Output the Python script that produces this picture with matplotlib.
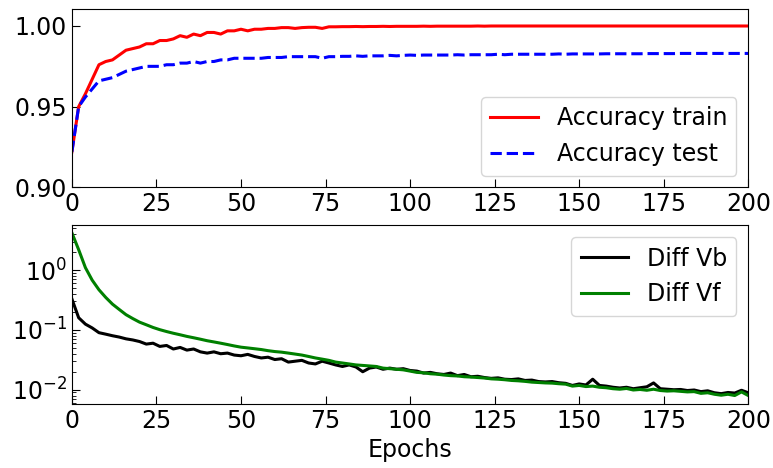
import numpy as np
import matplotlib.pyplot as plt

# Epochs sampled every 2 epochs
epochs = list(range(0, 201, 2))

acc_train = [
    0.922, 0.950, 0.958, 0.967, 0.976, 0.978, 0.979, 0.982, 0.985, 0.986,
    0.987, 0.989, 0.989, 0.991, 0.991, 0.992, 0.994, 0.993, 0.995, 0.994,
    0.996, 0.996, 0.995, 0.997, 0.997, 0.998, 0.997, 0.998, 0.998, 0.9985,
    0.9985, 0.999, 0.999, 0.9985, 0.999, 0.9992, 0.9992, 0.9985, 0.9995, 0.9995,
    0.9996, 0.9996, 0.9997, 0.9996, 0.9997, 0.9997, 0.9998, 0.9997, 0.9998, 0.9998,
    0.9998, 0.9998, 0.9999, 0.9998, 0.9999, 0.9999, 0.9999, 0.9999, 0.9999, 0.9999,
    1.0, 0.9999, 1.0, 1.0, 1.0, 1.0, 1.0, 1.0, 1.0, 1.0,
    1.0, 1.0, 1.0, 1.0, 1.0, 1.0, 1.0, 1.0, 1.0, 1.0,
    1.0, 1.0, 1.0, 1.0, 1.0, 1.0, 1.0, 1.0, 1.0, 1.0,
    1.0, 1.0, 1.0, 1.0, 1.0, 1.0, 1.0, 1.0, 1.0, 1.0,
    1.0,
]

acc_test = [
    0.922, 0.950, 0.956, 0.961, 0.966, 0.967, 0.968, 0.970, 0.972, 0.973,
    0.974, 0.975, 0.975, 0.975, 0.976, 0.976, 0.977, 0.977, 0.978, 0.977,
    0.978, 0.978, 0.979, 0.979, 0.980, 0.980, 0.980, 0.980, 0.980, 0.9805,
    0.9805, 0.9805, 0.981, 0.981, 0.981, 0.981, 0.981, 0.980, 0.981, 0.981,
    0.9812, 0.9812, 0.9815, 0.9812, 0.9815, 0.9815, 0.9815, 0.9818, 0.9815, 0.9818,
    0.982, 0.9818, 0.982, 0.982, 0.982, 0.982, 0.982, 0.9822, 0.982, 0.9822,
    0.9822, 0.9822, 0.9822, 0.9825, 0.9822, 0.9825, 0.9825, 0.9825, 0.9825, 0.9825,
    0.9825, 0.9825, 0.9827, 0.9825, 0.9827, 0.9827, 0.9827, 0.9827, 0.9827, 0.9828,
    0.9828, 0.9828, 0.9828, 0.9828, 0.9828, 0.9829, 0.9829, 0.9829, 0.9829, 0.9829,
    0.983, 0.983, 0.983, 0.983, 0.983, 0.983, 0.983, 0.983, 0.983, 0.983,
    0.983,
]

diff_vb = [
    0.33, 0.16, 0.125, 0.108, 0.090, 0.085, 0.080, 0.076, 0.071, 0.068,
    0.064, 0.058, 0.060, 0.053, 0.055, 0.048, 0.051, 0.046, 0.048, 0.043,
    0.041, 0.043, 0.040, 0.041, 0.038, 0.037, 0.039, 0.036, 0.034, 0.035,
    0.032, 0.033, 0.029, 0.030, 0.031, 0.028, 0.027, 0.030, 0.028, 0.026,
    0.0245, 0.026, 0.024, 0.020, 0.023, 0.024, 0.022, 0.023, 0.022, 0.0225,
    0.021, 0.0205, 0.019, 0.0195, 0.0185, 0.018, 0.019, 0.0172, 0.018, 0.0165,
    0.0168, 0.0160, 0.0155, 0.0158, 0.0150, 0.0148, 0.0152, 0.0143, 0.0145, 0.0137,
    0.0135, 0.0137, 0.0131, 0.0128, 0.0118, 0.0125, 0.0120, 0.0150, 0.0118, 0.0115,
    0.0110, 0.0107, 0.0110, 0.0104, 0.0108, 0.0112, 0.0130, 0.0104, 0.0102, 0.0100,
    0.0101, 0.0097, 0.0099, 0.0093, 0.0096, 0.0089, 0.0086, 0.0090, 0.0088, 0.0098,
    0.0089,
]

diff_vf = [
    4.2, 2.2, 1.1, 0.68, 0.47, 0.35, 0.27, 0.22, 0.18, 0.155,
    0.135, 0.122, 0.110, 0.101, 0.094, 0.088, 0.083, 0.078, 0.074, 0.070,
    0.066, 0.063, 0.060, 0.057, 0.054, 0.0515, 0.050, 0.0485, 0.047, 0.045,
    0.0435, 0.0425, 0.041, 0.0395, 0.038, 0.036, 0.034, 0.0325, 0.031, 0.029,
    0.028, 0.027, 0.026, 0.0255, 0.025, 0.0245, 0.023, 0.0225, 0.022, 0.0215,
    0.0205, 0.0195, 0.0192, 0.0185, 0.0182, 0.0176, 0.0172, 0.0170, 0.0165, 0.0163,
    0.0160, 0.0157, 0.0152, 0.0150, 0.0147, 0.0143, 0.0141, 0.0138, 0.0134, 0.0132,
    0.0130, 0.0129, 0.0126, 0.0124, 0.0115, 0.0118, 0.0113, 0.0115, 0.0110, 0.0108,
    0.0104, 0.0102, 0.0105, 0.0099, 0.0101, 0.0098, 0.0102, 0.0097, 0.0095, 0.0096,
    0.0094, 0.0092, 0.0093, 0.0087, 0.0089, 0.0084, 0.0081, 0.0084, 0.0080, 0.0092,
    0.0080,
]

plt.rcParams['font.size'] = 17

fig, (ax1, ax2) = plt.subplots(2, 1, figsize=(7.73, 4.68), dpi=100)
fig.subplots_adjust(left=0.093, right=0.968, top=0.981, bottom=0.137, hspace=0.213)

# accuracy panel
ax1.plot(epochs, acc_train, color='red', lw=2.2, label='Accuracy train')
ax1.plot(epochs, acc_test, color='blue', lw=2.2, ls='--', label='Accuracy test')
ax1.set_xlim(0, 200)
ax1.set_ylim(0.90, 1.0106)
ax1.set_yticks([0.90, 0.95, 1.00])
ax1.set_xticks(range(0, 201, 25))
ax1.tick_params(direction='in', length=6, labelsize=17)
ax1.legend(loc='lower right', fontsize=17)

# difference panel (log scale)
ax2.plot(epochs, diff_vb, color='black', lw=2.2, label='Diff Vb')
ax2.plot(epochs, diff_vf, color='green', lw=2.2, label='Diff Vf')
ax2.set_yscale('log')
ax2.set_xlim(0, 200)
ax2.set_ylim(0.0058, 5.6)
ax2.set_xticks(range(0, 201, 25))
ax2.tick_params(which='major', direction='in', length=6, labelsize=17)
ax2.tick_params(which='minor', direction='in', length=3)
ax2.set_xlabel('Epochs', fontsize=17)
ax2.legend(loc='upper right', fontsize=17)

plt.savefig('out.png')
